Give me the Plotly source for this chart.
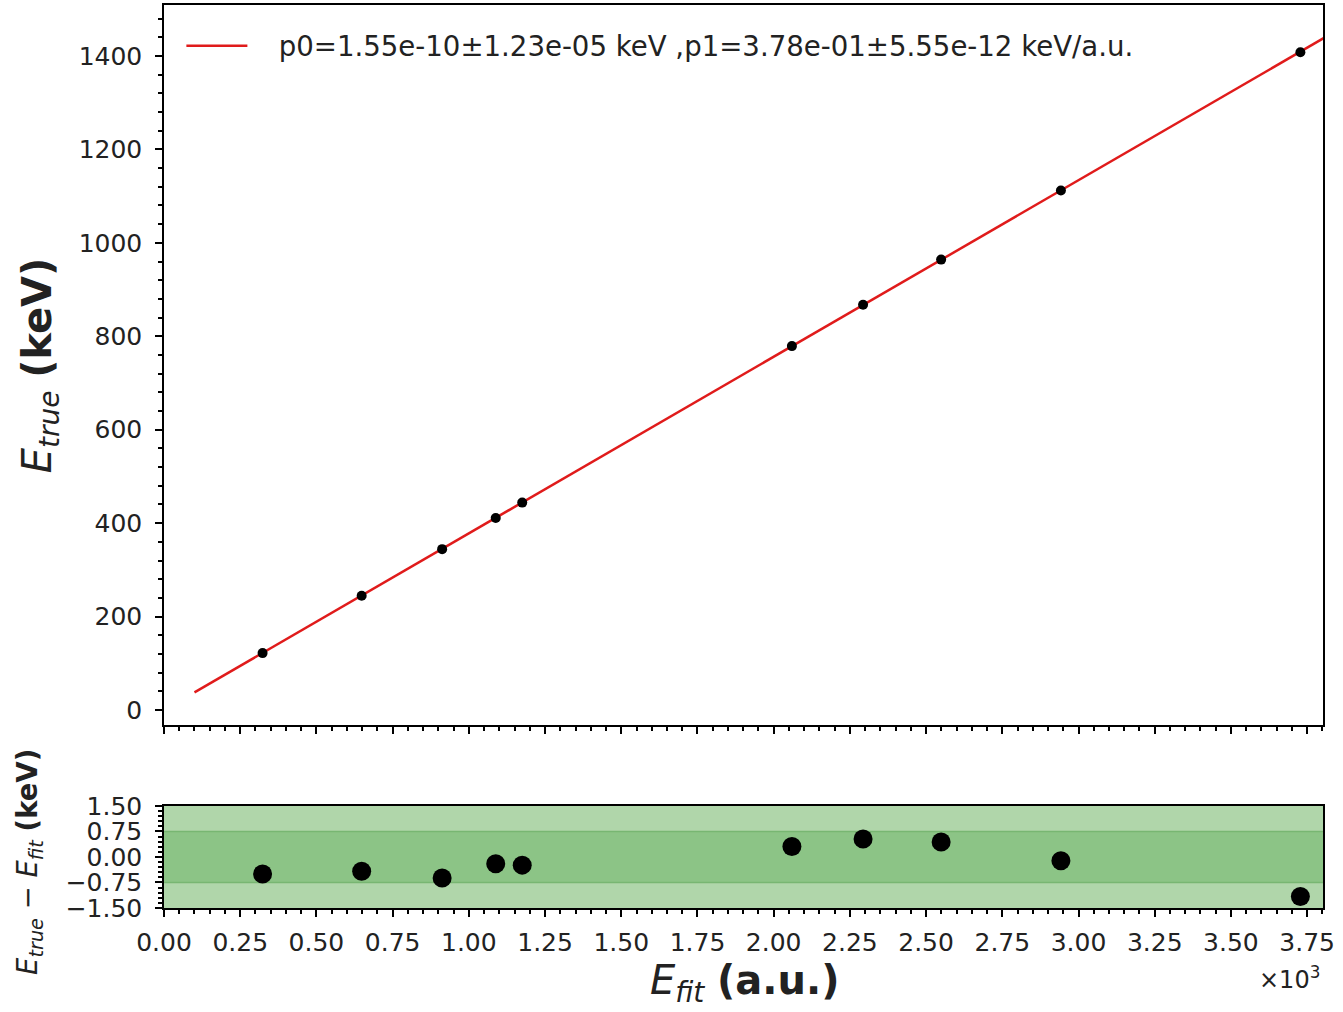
import plotly.graph_objects as go

# ---- data ----
e_fit = [323.4, 648.4, 912.4, 1088.2, 1175.1, 2059.8, 2293.2, 2549.3, 2942.2, 3727.8]   # a.u.
e_true = [121.78, 244.70, 344.28, 411.12, 443.96, 778.90, 867.37, 964.08, 1112.07, 1408.01]  # keV
residual = [-0.50, -0.42, -0.62, -0.20, -0.24, 0.31, 0.53, 0.44, -0.11, -1.16]  # keV
fit_x = [100, 3810]
fit_y = [37.8, 1440.2]
legend_label = "p0=1.55e-10±1.23e-05 keV ,p1=3.78e-01±5.55e-12 keV/a.u."
x_tickvals = [0, 250, 500, 750, 1000, 1250, 1500, 1750, 2000, 2250, 2500, 2750, 3000, 3250, 3500, 3750]
x_ticktext = ["0.00", "0.25", "0.50", "0.75", "1.00", "1.25", "1.50", "1.75", "2.00",
              "2.25", "2.50", "2.75", "3.00", "3.25", "3.50", "3.75"]
y_tickvals = [0, 200, 400, 600, 800, 1000, 1200, 1400]
r_tickvals = [-1.5, -0.75, 0.0, 0.75, 1.5]
r_ticktext = ["\u22121.50", "\u22120.75", "0.00", "0.75", "1.50"]
band_outer = 1.5
band_inner = 0.75

FONT = "DejaVu Sans"
TICKFONT = dict(family=FONT, size=25, color="#222")

fig = go.Figure()

fig.add_trace(go.Scatter(
    x=fit_x, y=fit_y, mode="lines", name="\u00a0\u00a0\u00a0" + legend_label,
    line=dict(color="#e01b1b", width=2.5), xaxis="x", yaxis="y"))
fig.add_trace(go.Scatter(
    x=e_fit, y=e_true, mode="markers", showlegend=False,
    marker=dict(color="black", size=10), xaxis="x", yaxis="y"))
fig.add_trace(go.Scatter(
    x=e_fit, y=residual, mode="markers", showlegend=False,
    marker=dict(color="black", size=19), xaxis="x2", yaxis="y2"))

# green bands in the residual panel
fig.add_shape(type="rect", xref="x2 domain", yref="y2", x0=0, x1=1,
              y0=-band_outer, y1=band_outer, fillcolor="#b0d6aa", line_width=0, layer="below")
fig.add_shape(type="rect", xref="x2 domain", yref="y2", x0=0, x1=1,
              y0=-band_inner, y1=band_inner, fillcolor="#8cc486", line_width=0, layer="below")
for yv in (-band_inner, band_inner):
    fig.add_shape(type="line", xref="x2 domain", yref="y2", x0=0, x1=1, y0=yv, y1=yv,
                  line=dict(color="#78b672", width=1.5), layer="below")

axis_common = dict(showline=True, linecolor="black", linewidth=1.5, mirror=True,
                   ticks="outside", tickcolor="black", tickwidth=1.5, ticklen=7,
                   showgrid=False, zeroline=False, tickfont=TICKFONT, automargin=False)

fig.update_layout(
    width=1343, height=1012,
    margin=dict(l=164, r=20, t=5, b=104, autoexpand=False),
    paper_bgcolor="white", plot_bgcolor="white",
    font=dict(family=FONT, color="#222"),
    xaxis=dict(domain=[0, 1], anchor="y", range=[0, 3802], tickvals=x_tickvals,
               showticklabels=False,
               minor=dict(dtick=50, tick0=0, ticks="outside", ticklen=4, tickcolor="black"),
               **axis_common),
    yaxis=dict(domain=[0.2027, 1], anchor="x", range=[-32, 1509], tickvals=y_tickvals,
               ticklabelstandoff=8,
               minor=dict(dtick=40, tick0=0, ticks="outside", ticklen=4, tickcolor="black"),
               **axis_common),
    xaxis2=dict(domain=[0, 1], anchor="y2", range=[0, 3802], tickvals=x_tickvals,
                ticktext=x_ticktext, ticklabelstandoff=4,
                minor=dict(dtick=50, tick0=0, ticks="outside", ticklen=4, tickcolor="black"),
                **axis_common),
    yaxis2=dict(domain=[0, 0.113], anchor="x2", range=[-1.5, 1.5], tickvals=r_tickvals,
                ticktext=r_ticktext, ticklabelstandoff=8,
                minor=dict(dtick=0.15, tick0=0, ticks="outside", ticklen=4, tickcolor="black"),
                **axis_common),
    legend=dict(x=0.015, y=0.982, xanchor="left", yanchor="top",
                bgcolor="rgba(255,255,255,0)", borderwidth=0, itemwidth=61,
                font=dict(family=FONT, size=27.6, color="#222")),
    showlegend=True,
)

fig.add_annotation(xref="paper", yref="paper", x=-0.107, y=0.601, textangle=-90,
                   xanchor="center", yanchor="middle",
                   text="<i>E</i><sub><i>true</i></sub> <b>(keV)</b>", showarrow=False,
                   font=dict(family=FONT, size=40, color="#222"))
fig.add_annotation(xref="paper", yref="paper", x=-0.1156, y=0.051, textangle=-90,
                   xanchor="center", yanchor="middle",
                   text="<i>E</i><sub><i>true</i></sub> \u2212 <i>E</i><sub><i>fit</i></sub> <b>(keV)</b>",
                   showarrow=False, font=dict(family=FONT, size=27.5, color="#222"))
fig.add_annotation(xref="paper", yref="paper", x=0.501, y=-0.0835,
                   xanchor="center", yanchor="middle",
                   text="<i>E</i><sub><i>fit</i></sub> <b>(a.u.)</b>", showarrow=False,
                   font=dict(family=FONT, size=40, color="#222"))
fig.add_annotation(xref="paper", yref="paper", x=0.9715, y=-0.0775,
                   xanchor="center", yanchor="middle",
                   text="\u00d710<sup>3</sup>", showarrow=False,
                   font=dict(family=FONT, size=24, color="#222"))

fig.write_html("out.html")
